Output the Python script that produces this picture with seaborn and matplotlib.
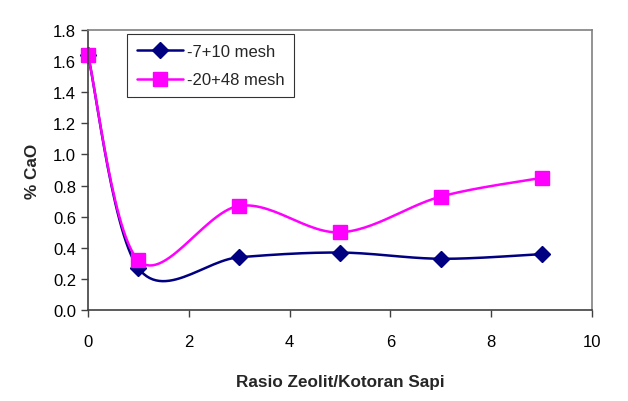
import matplotlib
matplotlib.use("Agg")
import matplotlib.pyplot as plt
import numpy as np
import seaborn as sns

# data
rasio = [0, 1, 3, 5, 7, 9]
cao_7_10 = [1.64, 0.27, 0.34, 0.37, 0.33, 0.36]
cao_20_48 = [1.64, 0.32, 0.67, 0.50, 0.73, 0.85]
labels = ["-7+10 mesh", "-20+48 mesh"]
colors = ["#000080", "#FF00FF"]
markers = ["D", "s"]

sns.set_style("white")
plt.rcParams["font.family"] = ["Liberation Sans", "DejaVu Sans"]


def smooth(x, y, n=30):
    """Excel-like smoothed line: cubic Bezier through points, tension 1/6."""
    p = np.column_stack([x, y]).astype(float)
    pts = np.vstack([p[0], p, p[-1]])
    out = []
    t = np.linspace(0, 1, n)[:, None]
    for i in range(1, len(pts) - 2):
        p0, p3 = pts[i], pts[i + 1]
        c1 = p0 + (pts[i + 1] - pts[i - 1]) / 6
        c2 = p3 - (pts[i + 2] - pts[i]) / 6
        seg = ((1 - t) ** 3) * p0 + 3 * ((1 - t) ** 2) * t * c1 + 3 * (1 - t) * t ** 2 * c2 + t ** 3 * p3
        out.append(seg if i == 1 else seg[1:])
    out = np.vstack(out)
    return out[:, 0], out[:, 1]


fig = plt.figure(figsize=(6.28, 4.02), dpi=100)
ax = fig.add_axes([0.140, 0.226, 0.803, 0.697])

for ys, lab, c, m, ms in zip([cao_7_10, cao_20_48], labels, colors, markers, [8, 10]):
    sx, sy = smooth(rasio, ys)
    sns.lineplot(x=sx, y=sy, ax=ax, color=c, linewidth=1.8, sort=False, estimator=None)
    ax.plot(rasio, ys, linestyle="none", marker=m, color=c, markersize=ms, clip_on=False)
    ax.plot([], [], color=c, marker=m, markersize=ms, linewidth=1.8, label=lab)

ax.set_xlim(0, 10)
ax.set_ylim(0, 1.8)
ax.set_xticks(range(0, 11, 2))
ax.set_yticks(np.arange(0, 1.81, 0.2))
ax.set_yticklabels([f"{v:.1f}" for v in np.arange(0, 1.81, 0.2)])
ax.tick_params(axis="both", direction="out", length=5, width=1, labelsize=12,
               colors="#404040", labelcolor="black", bottom=True, left=True)
ax.tick_params(axis="x", pad=12)
for s in ax.spines.values():
    s.set_color("#808080")
    s.set_linewidth(1.2)
ax.spines["left"].set_color("#404040")
ax.spines["bottom"].set_color("#404040")

ax.set_xlabel("Rasio Zeolit/Kotoran Sapi", fontsize=12.3, fontweight="bold", labelpad=18)
ax.set_ylabel("% CaO", fontsize=12.3, fontweight="bold", labelpad=9)

leg = ax.legend(loc="upper left", bbox_to_anchor=(0.077, 0.985), fontsize=12,
                frameon=True, fancybox=False, edgecolor="black", handlelength=2.8,
                borderpad=0.6, labelspacing=0.8, handletextpad=0.2,
                borderaxespad=0.0)
leg.get_frame().set_linewidth(0.8)

fig.savefig("out.png", dpi=100)
